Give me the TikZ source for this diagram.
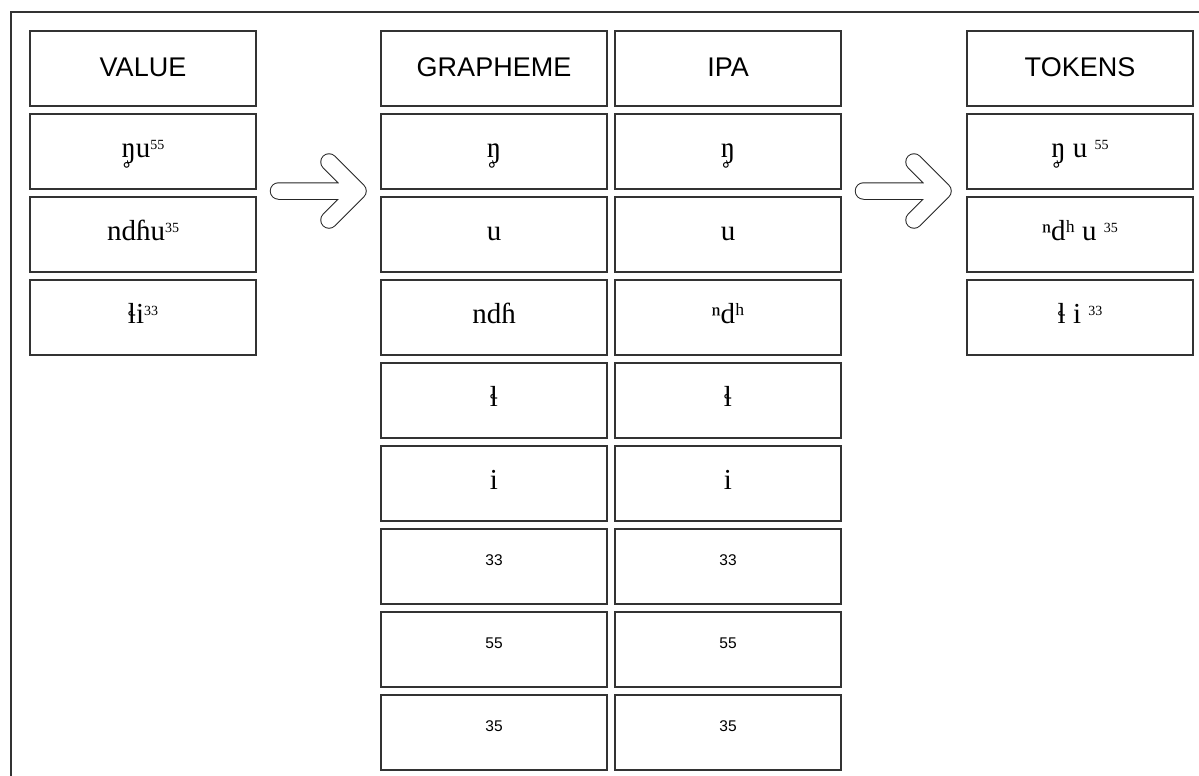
\documentclass[tikz,border=0pt]{standalone}
\usepackage{fontspec}
\setmainfont{Liberation Serif}
\newfontfamily\hdfont{Liberation Sans}
\newcommand\tsup[1]{\raisebox{8pt}{\fontsize{14}{14}\selectfont #1}}
\newcommand\engr{\leavevmode\rlap{\hspace{0.01em}\raisebox{-0.9em}{˚}}ŋ}
\tikzset{
  cell/.style={draw=black!80, line width=1.2pt, minimum width=226pt, minimum height=75pt, inner sep=0pt, outer sep=0pt, align=center},
  headcell/.style={cell, font=\hdfont\fontsize{27}{30}\selectfont, text height=46pt, text depth=29pt},
  ipacell/.style={cell, font=\fontsize{29}{32}\selectfont, text height=43pt, text depth=32pt},
  numcell/.style={cell, font=\hdfont\fontsize{15.5}{18}\selectfont, text height=36pt, text depth=39pt},
  fatarrow/.style={line cap=round, line join=round},
}
\begin{document}
\begin{tikzpicture}[x=1pt,y=-1pt]
\useasboundingbox (0,0) rectangle (1199,776);
\fill[white] (0,0) rectangle (1199,776);
% frame
\coordinate (fA) at (11,776);
\coordinate (fB) at (11,12);
\coordinate (fC) at (1199,12);
\draw[black!80, line width=1.2pt] (fA) -- (fB) -- (fC);
% column x centres
\def\cV{143}\def\cG{494}\def\cI{728}\def\cT{1080}
% VALUE column
\node[headcell] (vh) at (\cV,68.5) {VALUE};
\node[ipacell] (v1) at (\cV,151.5) {\engr u\tsup{55}};
\node[ipacell] (v2) at (\cV,234.5) {ndɦu\tsup{35}};
\node[ipacell] (v3) at (\cV,317.5) {ɬi\tsup{33}};
% GRAPHEME column
\node[headcell] (gh) at (\cG,68.5) {GRAPHEME};
\node[ipacell] (g1) at (\cG,151.5) {\engr};
\node[ipacell] (g2) at (\cG,234.5) {u};
\node[ipacell] (g3) at (\cG,317.5) {ndɦ};
\node[ipacell] (g4) at (\cG,400.5) {ɬ};
\node[ipacell] (g5) at (\cG,483.5) {i};
\node[numcell] (g6) at (\cG,566.5) {33};
\node[numcell] (g7) at (\cG,649.5) {55};
\node[numcell] (g8) at (\cG,732.5) {35};
% IPA column
\node[headcell] (ih) at (\cI,68.5) {IPA};
\node[ipacell] (i1) at (\cI,151.5) {\engr};
\node[ipacell] (i2) at (\cI,234.5) {u};
\node[ipacell] (i3) at (\cI,317.5) {ⁿdʰ};
\node[ipacell] (i4) at (\cI,400.5) {ɬ};
\node[ipacell] (i5) at (\cI,483.5) {i};
\node[numcell] (i6) at (\cI,566.5) {33};
\node[numcell] (i7) at (\cI,649.5) {55};
\node[numcell] (i8) at (\cI,732.5) {35};
% TOKENS column
\node[headcell] (th) at (\cT,68.5) {TOKENS};
\node[ipacell] (t1) at (\cT,151.5) {\engr{} u \tsup{55}};
\node[ipacell] (t2) at (\cT,234.5) {ⁿdʰ u \tsup{35}};
\node[ipacell] (t3) at (\cT,317.5) {ɬ i \tsup{33}};
% block arrows
\coordinate (a1s) at (278.5,191);
\coordinate (a1t) at (358,191);
\coordinate (a1u) at (329,162);
\coordinate (a1d) at (329,220);
\coordinate (a2s) at (863.5,191);
\coordinate (a2t) at (943,191);
\coordinate (a2u) at (914,162);
\coordinate (a2d) at (914,220);
\foreach \p in {1,2}{
  \draw[fatarrow, black!85, line width=17.5pt] (a\p s) -- (a\p t) (a\p u) -- (a\p t) -- (a\p d);
  \draw[fatarrow, white, line width=15.5pt] (a\p s) -- (a\p t) (a\p u) -- (a\p t) -- (a\p d);
}
\end{tikzpicture}
\end{document}
